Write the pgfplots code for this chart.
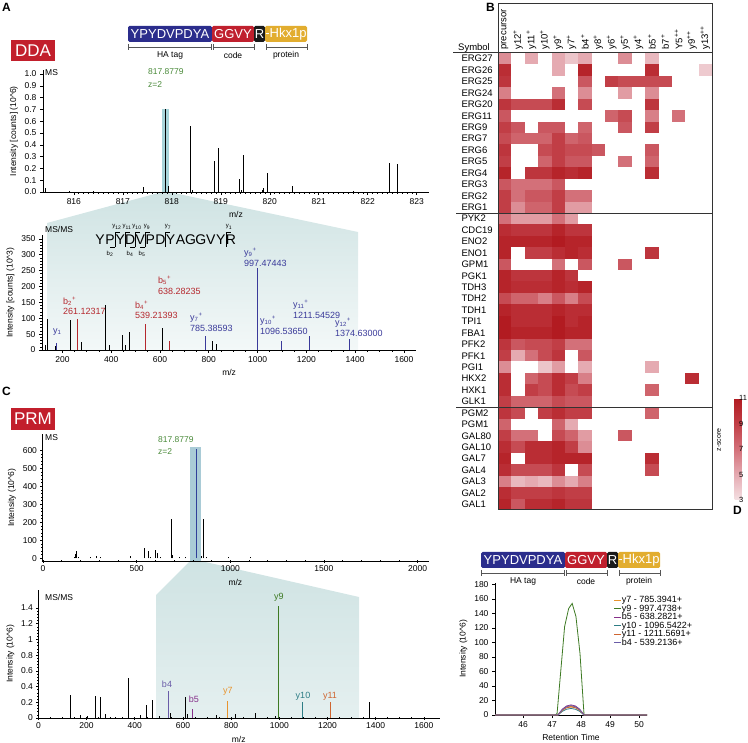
\documentclass[border=0pt]{standalone}
\usepackage{pgfplots}
\pgfplotsset{compat=1.18}
\usepackage{fontspec}
\setmainfont{Liberation Sans}
\newcommand{\fz}[1]{\fontsize{#1}{#1}\selectfont}
\definecolor{hablue}{HTML}{2B2D8C}
\definecolor{codered}{HTML}{C0202E}
\definecolor{rblack}{HTML}{1A1A1A}
\definecolor{protyel}{HTML}{E2AD2F}
\definecolor{ddared}{HTML}{C21F2C}
\definecolor{precgreen}{HTML}{4A8A3A}
\definecolor{bred}{HTML}{B5282E}
\definecolor{yblue}{HTML}{3A3A9A}
\definecolor{bandA}{HTML}{A8D5DA}
\definecolor{bandC}{HTML}{A9CBD6}
\definecolor{shadeTop}{HTML}{CFE3E3}
\definecolor{shadeBot}{HTML}{F3F8F8}
\definecolor{cB4}{HTML}{6A5CA8}
\definecolor{cB5}{HTML}{86308A}
\definecolor{cY7}{HTML}{E8942E}
\definecolor{cY9}{HTML}{3D7A23}
\definecolor{cY10}{HTML}{2E7D85}
\definecolor{cY11}{HTML}{CF6530}
\definecolor{precblue}{HTML}{2F3F9A}
\definecolor{framegray}{HTML}{333333}
\definecolor{brk}{HTML}{555555}

% one heatmap cell, 214/16 x 457/40
\pgfdeclareplotmark{cell}{\pgfpathrectangle{\pgfpoint{-6.69pt}{-5.72pt}}{\pgfpoint{13.38pt}{11.44pt}}\pgfusepathqfill}

\pgfplotsset{
  ms/.style={scale only axis, anchor=south west,
    axis x line*=bottom, axis y line*=left,
    axis line style={-, line width=0.8pt},
    tick align=outside, tick style={black, line width=0.6pt},
    major tick length=3pt, minor tick length=1.8pt,
    tick label style={font=\fz{8.5}},
    label style={font=\fz{8.5}},
    /pgf/number format/assume math mode=true,
    /pgf/number format/1000 sep={}},
  stem/.style={ycomb, line width=0.8pt, mark=none},
}

% peptide banner (pixel coords, shifted)
\newcommand{\banner}[2]{%
  \begin{scope}[xshift=#1pt, yshift=-#2pt]
    \fill[hablue, rounded corners=1.5pt] (128,26) rectangle (212,42);
    \fill[codered, rounded corners=1.5pt] (212,26) rectangle (254,42);
    \fill[rblack, rounded corners=1.5pt] (254,26) rectangle (265,42);
    \fill[protyel, rounded corners=1.5pt] (265,26) rectangle (307,42);
    \node[text=white, font=\fz{13}, inner sep=0] at (170,34) {YPYDVPDYA};
    \node[text=white, font=\fz{13}, inner sep=0] at (233,34) {GGVY};
    \node[text=white, font=\fz{13}, inner sep=0] at (259.5,34) {R};
    \node[text=white, font=\fz{13}, inner sep=0] at (286,34) {-Hkx1p};
    \draw[brk, line width=0.6pt] (128,44) -- (128,50) (128,47) -- (211,47) (211,44) -- (211,50);
    \draw[brk, line width=0.6pt] (213,44) -- (213,50) (213,47) -- (254,47) (254,44) -- (254,50);
    \draw[brk, line width=0.6pt] (266,44) -- (266,50) (266,47) -- (307,47) (307,44) -- (307,50);
    \node[font=\fz{8.5}] at (170,55) {HA tag};
    \node[font=\fz{8.5}] at (233,55) {code};
    \node[font=\fz{8.5}] at (286,55) {protein};
  \end{scope}}

\begin{document}
\begin{tikzpicture}
\path[use as bounding box] (0pt,0pt) rectangle (748pt,-743pt);

% background: highlight bands and zoom shading
\begin{scope}[x=1pt, y=-1pt]
  \shade[top color=shadeTop, bottom color=shadeBot] (162,192) -- (169,192) -- (358,232) -- (358,350) -- (47,350) -- (47,223) -- cycle;
  \fill[bandA] (162,109) rectangle (169,192);
  \shade[top color=shadeTop, bottom color=shadeBot!60!shadeTop] (190,561) -- (201,561) -- (359,597) -- (359,718) -- (156,718) -- (156,595) -- cycle;
  \fill[bandC] (190,447) rectangle (201,561);
\end{scope}

% ---------- A: DDA MS ----------
\begin{axis}[ms, at={(43pt,-192pt)}, width=386pt, height=121.5pt,
  xmin=815.37, xmax=823.25, ymin=0, ymax=1.03,
  xtick={816,...,823}, minor x tick num=9,
  ytick={0,0.1,0.2,0.3,0.4,0.5,0.6,0.7,0.8,0.9,1.0},
  yticklabel style={/pgf/number format/fixed, /pgf/number format/fixed zerofill, /pgf/number format/precision=1},
  xlabel={m/z}, ylabel={Intensity [counts] (10\textasciicircum 6)}]
\addplot[stem, black] coordinates {
  (815.42,0.03) (815.9,0.01) (816.4,0.005) (817.41,0.04) (817.878,0.70)
  (817.92,0.05) (818.37,0.56) (818.42,0.02) (818.86,0.26) (818.95,0.37)
  (819.37,0.11) (819.41,0.02) (819.46,0.31) (819.84,0.02) (819.87,0.03)
  (819.96,0.16) (820.46,0.05) (821.71,0.01) (822.45,0.25) (822.6,0.24)};
\end{axis}

% ---------- A: DDA MS/MS ----------
\begin{axis}[ms, at={(42pt,-350pt)}, width=374.2pt, height=115pt,
  xmin=116.4, xmax=1650, ymin=0, ymax=362,
  xtick={200,400,...,1600}, minor x tick num=3,
  ytick={0,50,...,350}, minor y tick num=4,
  xlabel={m/z}, ylabel={Intensity [counts] (10\textasciicircum 3)}]
\addplot[stem, black] coordinates {
  (128.7,15) (136.9,98) (169.7,12) (234,95) (279,25) (375.8,142) (391,15)
  (447,47) (456.6,15) (474,56) (609.4,68) (814,29) (832,18)};
\addplot[stem, bred] coordinates {
  (261.12,97) (539.21,82) (542,15) (638.28,28)};
\addplot[stem, yblue] coordinates {
  (175.12,22) (785.39,45) (997.47,258) (1096.54,28) (1211.55,45) (1374.63,34)};
\end{axis}

% ---------- C: PRM MS ----------
\begin{axis}[ms, tick align=center, at={(42pt,-561pt)}, width=386.8pt, height=126.7pt,
  xmin=-5.3, xmax=2060, ymin=-15, ymax=689,
  xtick={0,500,...,2000}, minor x tick num=4,
  ytick={0,100,...,600}, minor y tick num=4,
  xlabel={m/z}, ylabel={Intensity (10\textasciicircum 6)}]
\addplot[stem, black] coordinates {
  (165.5,10) (172.5,22) (180,38) (187,8) (255,10) (283,15) (304,5) (464.5,13)
  (539,60) (564,38) (575,10) (602,45) (610,30) (625,10) (687,217) (692,20)
  (731,5) (758,10) (843.5,15) (858,217) (874,10) (991,5) (1105,5)};
\addplot[stem, precblue] coordinates {(817.88,610)};
\end{axis}

% ---------- C: PRM MS/MS ----------
\begin{axis}[ms, tick align=center, at={(38pt,-718pt)}, width=401.5pt, height=128pt,
  xmin=-1.7, xmax=1665, ymin=0, ymax=1.63,
  xtick={0,200,...,1600}, minor x tick num=3,
  ytick={0,0.2,0.4,0.6,0.8,1,1.2,1.4}, minor y tick num=4,
  xlabel={m/z}, ylabel={Intensity (10\textasciicircum 6)}]
\addplot[stem, black] coordinates {
  (134,0.29) (176,0.04) (203,0.02) (235,0.28) (259,0.27) (278,0.05) (319,0.01)
  (375,0.51) (425,0.04) (447,0.17) (474,0.23) (502,0.03) (549,0.06) (609,0.27)
  (620,0.05) (737,0.04) (817,0.05) (899,0.07) (982,0.02) (1374,0.21)};
\addplot[stem, cB4] coordinates {(539.21,0.34)};
\addplot[stem, cB5] coordinates {(638.28,0.12)};
\addplot[stem, cY7] coordinates {(785.39,0.22)};
\addplot[stem, cY9] coordinates {(997.47,1.43)};
\addplot[stem, cY10] coordinates {(1096.54,0.20)};
\addplot[stem, cY11] coordinates {(1211.55,0.20)};
\end{axis}

% ---------- B: heatmap ----------
\begin{axis}[at={(498pt,-510pt)}, anchor=south west, scale only axis,
  width=214pt, height=457pt,
  xmin=-0.5, xmax=15.5, ymin=-0.5, ymax=39.5, y dir=reverse,
  axis line style={draw=none}, major tick length=0pt, tick style={draw=none},
  xtick={0,...,15}, xticklabel pos=upper,
  xticklabels={precursor, y12\textsuperscript{+}, y11\textsuperscript{+}, y10\textsuperscript{+},
    y9\textsuperscript{+}, y7\textsuperscript{+}, b4\textsuperscript{+}, y8\textsuperscript{+},
    y6\textsuperscript{+}, y5\textsuperscript{+}, y4\textsuperscript{+}, b5\textsuperscript{+},
    b7\textsuperscript{+}, Y5\textsuperscript{++}, y9\textsuperscript{++}, y13\textsuperscript{++}},
  xticklabel style={rotate=90, anchor=west, font=\fz{9.5}},
  ytick={0,...,39},
  yticklabels={ERG27,ERG26,ERG25,ERG24,ERG20,ERG11,ERG9,ERG7,ERG6,ERG5,ERG4,ERG3,ERG2,ERG1,
    PYK2,CDC19,ENO2,ENO1,GPM1,PGK1,TDH3,TDH2,TDH1,TPI1,FBA1,PFK2,PFK1,PGI1,HKX2,HXK1,GLK1,
    PGM2,PGM1,GAL80,GAL10,GAL7,GAL4,GAL3,GAL2,GAL1},
  yticklabel style={anchor=west, xshift=-40pt, font=\fz{9.5}},
  point meta min=3, point meta max=11,
  colormap={zs}{rgb255(0cm)=(244,224,227); rgb255(1cm)=(229,170,177); rgb255(2cm)=(211,112,121); rgb255(3cm)=(193,62,70); rgb255(4cm)=(178,27,33)},
  colorbar,
  colorbar style={at={(parent axis.south east)}, anchor=south west, xshift=14pt, yshift=10pt,
    width=7pt, height=102pt, ytick={3,5,7,9,11}, yticklabel pos=right,
    yticklabel style={font=\fz{7.5}, inner sep=0.5pt, xshift=-3pt}, axis line style={draw=none}, major tick length=0pt,
    /pgf/number format/assume math mode=true}]
\addplot[scatter, only marks, mark=cell, scatter/use mapped color={draw=none, fill=mapped color}, point meta=explicit]
  table[row sep=\\, x=x, y=y, meta=z] {
x y z\\
0 0 6\\ 2 0 5\\ 4 0 5\\ 5 0 4\\ 6 0 5\\ 9 0 6\\ 11 0 4.5\\
0 1 10\\ 4 1 5\\ 6 1 10.5\\ 11 1 10\\ 15 1 3.8\\
0 2 9.5\\ 6 2 8\\ 8 2 9\\ 9 2 8.5\\ 10 2 8.5\\ 11 2 8.5\\ 12 2 8.5\\
0 3 6.5\\ 4 3 7\\ 6 3 6\\ 9 3 5.5\\ 11 3 6\\
0 4 9.5\\ 1 4 8.5\\ 2 4 8.5\\ 3 4 8.5\\ 4 4 10\\ 6 4 8.5\\ 11 4 9.5\\
0 5 8\\ 8 5 7.5\\ 9 5 8.5\\ 11 5 6.5\\ 13 5 7\\
0 6 9\\ 1 6 8\\ 3 6 8\\ 4 6 8\\ 6 6 7.5\\ 9 6 8\\ 11 6 9\\
0 7 8.5\\ 1 7 7.5\\ 2 7 7.5\\ 3 7 7.5\\ 4 7 9\\ 5 7 7.5\\ 6 7 8\\
0 8 9.5\\ 3 8 8.5\\ 4 8 9\\ 5 8 8.5\\ 6 8 8.5\\ 7 8 8\\ 11 8 8\\
0 9 9\\ 3 9 7.5\\ 4 9 9\\ 5 9 8\\ 6 9 8\\ 9 9 7\\ 11 9 7.5\\
0 10 10.5\\ 2 10 9.5\\ 3 10 9.5\\ 4 10 10.5\\ 5 10 10\\ 6 10 10.5\\ 11 10 10\\
0 11 8\\ 1 11 7\\ 2 11 7\\ 3 11 7\\ 4 11 8\\
0 12 9\\ 1 12 7\\ 2 12 8\\ 3 12 8\\ 4 12 9\\ 5 12 7\\ 6 12 7\\
0 13 9\\ 1 13 6\\ 2 13 7.5\\ 3 13 7.5\\ 4 13 9\\ 5 13 5.5\\ 6 13 5.5\\
0 14 7\\ 1 14 5.5\\ 2 14 5.5\\ 3 14 5.5\\ 4 14 7\\ 5 14 5.5\\
0 15 10\\ 1 15 9.5\\ 2 15 9.5\\ 3 15 9.5\\ 4 15 10.5\\ 5 15 9.5\\ 6 15 9.5\\
0 16 10.5\\ 1 16 10.5\\ 2 16 10.5\\ 3 16 10.5\\ 4 16 11\\ 5 16 10.5\\ 6 16 10.5\\
0 17 10.5\\ 2 17 9\\ 3 17 9\\ 4 17 10\\ 5 17 10.5\\ 6 17 10\\ 11 17 9.5\\
0 18 8\\ 4 18 7\\ 6 18 8\\ 9 18 8\\
0 19 10.5\\ 1 19 9.5\\ 2 19 9.5\\ 3 19 9.5\\ 4 19 10.5\\ 5 19 9.5\\
0 20 10.5\\ 1 20 10\\ 2 20 10\\ 3 20 10\\ 4 20 10.5\\ 5 20 10\\ 6 20 10.5\\
0 21 8.5\\ 1 21 7.5\\ 2 21 7.5\\ 3 21 6.5\\ 4 21 8\\ 5 21 6.5\\ 6 21 8.5\\
0 22 10.5\\ 1 22 10\\ 2 22 10\\ 3 22 10\\ 4 22 10.5\\ 5 22 10\\ 6 22 10\\
0 23 11\\ 1 23 10\\ 2 23 10\\ 3 23 10\\ 4 23 11\\ 5 23 10\\ 6 23 10.5\\
0 24 11\\ 1 24 10.5\\ 2 24 10.5\\ 3 24 10.5\\ 4 24 11\\ 5 24 10.5\\ 6 24 10.5\\
0 25 9.5\\ 1 25 8\\ 2 25 8.5\\ 3 25 8.5\\ 4 25 9\\ 5 25 7\\ 6 25 7\\
0 26 9\\ 1 26 5\\ 2 26 7\\ 3 26 8.5\\ 4 26 9.5\\ 6 26 8\\
0 27 6\\ 3 27 4\\ 4 27 5.5\\ 6 27 5\\ 11 27 5\\
0 28 10\\ 2 28 7.5\\ 3 28 8.5\\ 4 28 10\\ 5 28 9\\ 6 28 6.5\\ 14 28 10\\
0 29 10\\ 2 29 9\\ 3 29 8.5\\ 4 29 10\\ 5 29 8.5\\ 6 29 9\\ 11 29 7.5\\
0 30 9\\ 1 30 7.5\\ 2 30 7.5\\ 3 30 7.5\\ 4 30 8.5\\ 5 30 8\\ 6 30 8\\
0 31 9.5\\ 1 31 8.5\\ 3 31 9\\ 4 31 10\\ 5 31 9\\ 6 31 9\\ 11 31 7.5\\
0 32 7.5\\ 4 32 7.5\\ 5 32 5\\
0 33 9\\ 1 33 7\\ 2 33 7\\ 4 33 8.5\\ 5 33 7.5\\ 6 33 5.5\\ 9 33 8\\
0 34 10\\ 1 34 8.5\\ 2 34 10\\ 3 34 10\\ 4 34 10.5\\ 5 34 9\\ 6 34 6\\
0 35 10.5\\ 2 35 10\\ 3 35 10\\ 4 35 10.5\\ 5 35 10.5\\ 6 35 10.5\\ 11 35 10\\
0 36 10\\ 1 36 8.5\\ 2 36 8.5\\ 3 36 8.5\\ 4 36 9.5\\ 6 36 8.5\\ 11 36 8.5\\
0 37 6.5\\ 1 37 4.5\\ 2 37 5\\ 3 37 4.5\\ 4 37 6\\ 5 37 5\\ 6 37 6.5\\
0 38 10\\ 1 38 9\\ 2 38 9\\ 3 38 9\\ 4 38 9.5\\ 5 38 9\\ 6 38 9\\
0 39 10.5\\ 1 39 8\\ 2 39 10\\ 3 39 10\\ 4 39 10.5\\ 5 39 9.5\\ 6 39 9.5\\
};
\end{axis}

% ---------- D: XIC ----------
\begin{axis}[ms, at={(495pt,-715pt)}, width=152pt, height=131.9pt,
  xmin=45.03, xmax=50.27, ymin=0, ymax=182,
  xtick={46,...,50}, ytick={0,20,...,180},
  xlabel={Retention Time}, ylabel={Intensity (10\textasciicircum 6)},
  legend style={at={(0.76,0.917)}, anchor=north west, draw=none, fill=none,
    font=\fz{9}, row sep=0pt, nodes={inner sep=0.3pt}},
  legend cell align=left,
  legend image code/.code={\draw[#1, line width=0.9pt] (0pt,0pt) -- (7pt,0pt);}]
\addplot[cY7, line width=0.8pt] coordinates {
  (45.03,0) (47.2,0) (47.35,7) (47.5,11) (47.65,12) (47.8,11) (47.95,7) (48.1,0) (50.27,0)};
\addlegendentry{y7 - 785.3941+}
\addplot[cY9, line width=0.8pt] coordinates {
  (45.03,0) (47.1,0) (47.17,2) (47.43,122) (47.57,147) (47.69,154) (47.82,136) (47.96,85) (48.1,0) (50.27,0)};
\addlegendentry{y9 - 997.4738+}
\addplot[cB5, line width=0.8pt] coordinates {
  (45.03,0) (47.2,0) (47.35,8) (47.5,12.5) (47.65,14) (47.8,12.5) (47.95,8) (48.1,0) (50.27,0)};
\addlegendentry{b5 - 638.2821+}
\addplot[cY10, line width=0.8pt] coordinates {
  (45.03,0) (47.2,0) (47.35,5) (47.5,8) (47.65,9) (47.8,8) (47.95,5) (48.1,0) (50.27,0)};
\addlegendentry{y10 - 1096.5422+}
\addplot[cY11, line width=0.8pt] coordinates {
  (45.03,0) (47.2,0) (47.35,6.5) (47.5,10) (47.65,11) (47.8,10) (47.95,6.5) (48.1,0) (50.27,0)};
\addlegendentry{y11 - 1211.5691+}
\addplot[cB4, line width=0.8pt] coordinates {
  (45.03,0) (47.2,0) (47.35,7.5) (47.5,11.5) (47.65,13) (47.8,11.5) (47.95,7.5) (48.1,0) (50.27,0)};
\addlegendentry{b4 - 539.2136+}
\end{axis}

% ---------- annotations ----------
\begin{scope}[x=1pt, y=-1pt]
  \node[anchor=north west, font=\bfseries\fz{12}, inner sep=0] at (2,3) {A};
  \node[anchor=north west, font=\bfseries\fz{12}, inner sep=0] at (486,3) {B};
  \node[anchor=north west, font=\bfseries\fz{12}, inner sep=0] at (2,387) {C};
  \node[anchor=north west, font=\bfseries\fz{12}, inner sep=0] at (733,506) {D};
  \banner{0}{0}
  \banner{353}{526}
  \node[fill=ddared, text=white, minimum width=44pt, minimum height=21pt, inner sep=0, font=\fz{17}] at (33,50.5) {DDA};
  \node[fill=ddared, text=white, minimum width=44pt, minimum height=22pt, inner sep=0, font=\fz{17}] at (33,419) {PRM};
  % A MS
  \node[anchor=west, font=\fz{8.5}, inner sep=0] at (45,73) {MS};
  \node[anchor=west, font=\fz{8.5}, text=precgreen, inner sep=0] at (148,72) {817.8779};
  \node[anchor=west, font=\fz{8.5}, text=precgreen, inner sep=0] at (148,85) {z=2};
  % A MS/MS
  \node[anchor=west, font=\fz{8.5}, inner sep=0] at (45,229) {MS/MS};
  \foreach \l [count=\k] in {Y,P,Y,D,V,P,D,Y,A,G,G,V,Y,R}
    \node[font=\fz{14}, inner sep=0] at ({95+10.07*(\k-0.5)},240) {\l};
  \foreach \b in {2,3,4,5,7,13}
    \draw[line width=0.5pt] ({95+10.07*\b},232.5) -- ++(0,15) ({95+10.07*\b},232.5) -- ++(5,0);
  \foreach \b in {2,4,5}
    \draw[line width=0.5pt] ({95+10.07*\b},247.5) -- ++(-5,0);
  \foreach \xx/\t in {117/12,127/11,137/10,147/9,168/7,229/1}
    \node[font=\fz{6}, inner sep=0] at (\xx,227) {y\textsubscript{\t}};
  \foreach \xx/\t in {110/2,130/4,142/5}
    \node[font=\fz{6}, inner sep=0] at (\xx,254) {b\textsubscript{\t}};
  \begin{scope}[every node/.style={anchor=west, font=\fz{9}, inner sep=0}]
    \node[text=yblue] at (53,332) {y\textsubscript{1}};
    \node[text=bred] at (63,301) {b\textsubscript{2}\textsuperscript{+}};
    \node[text=bred] at (63,311) {261.12317};
    \node[text=bred] at (135,305) {b\textsubscript{4}\textsuperscript{+}};
    \node[text=bred] at (135,315) {539.21393};
    \node[text=bred] at (158,280) {b\textsubscript{5}\textsuperscript{+}};
    \node[text=bred] at (158,291) {638.28235};
    \node[text=yblue] at (190,318) {y\textsubscript{7}\textsuperscript{+}};
    \node[text=yblue] at (190,328) {785.38593};
    \node[text=yblue] at (244,253) {y\textsubscript{9}\textsuperscript{+}};
    \node[text=yblue] at (244,263) {997.47443};
    \node[text=yblue] at (260,321) {y\textsubscript{10}\textsuperscript{+}};
    \node[text=yblue] at (260,331) {1096.53650};
    \node[text=yblue] at (293,305) {y\textsubscript{11}\textsuperscript{+}};
    \node[text=yblue] at (293,315) {1211.54529};
    \node[text=yblue] at (335,323) {y\textsubscript{12}\textsuperscript{+}};
    \node[text=yblue] at (335,333) {1374.63000};
  \end{scope}
  % C
  \node[anchor=west, font=\fz{8.5}, inner sep=0] at (45,438) {MS};
  \node[anchor=west, font=\fz{8.5}, text=precgreen, inner sep=0] at (158,440) {817.8779};
  \node[anchor=west, font=\fz{8.5}, text=precgreen, inner sep=0] at (158,452) {z=2};
  \node[anchor=west, font=\fz{8.5}, inner sep=0] at (45,597) {MS/MS};
  \begin{scope}[every node/.style={font=\fz{9}, inner sep=0}]
    \node[text=cB4] at (167,684) {b4};
    \node[text=cB5] at (194,699) {b5};
    \node[text=cY7] at (228,691) {y7};
    \node[text=cY9] at (279,597) {y9};
    \node[text=cY10] at (303,696) {y10};
    \node[text=cY11] at (330,696) {y11};
  \end{scope}
  % B frame
  \draw[framegray, line width=1pt] (498,4) rectangle (712,510);
  \draw[framegray, line width=1pt] (453,53) -- (712,53) (456,214) -- (712,214) (456,408) -- (712,408);
  \node[font=\fz{9.5}, inner sep=0] at (474,48) {Symbol};
  \node[font=\fz{7}, rotate=90, inner sep=0] at (719,440) {z-score};
\end{scope}
\end{tikzpicture}
\end{document}
